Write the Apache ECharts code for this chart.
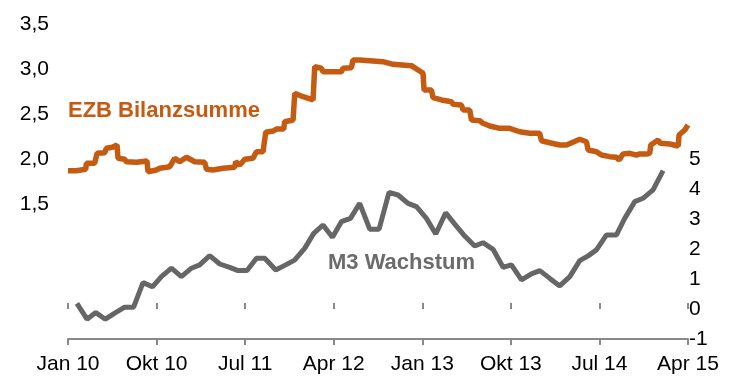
<!DOCTYPE html>
<html>
<head>
<meta charset="utf-8">
<script src="https://cdn.jsdelivr.net/npm/echarts@6/dist/echarts.min.js"></script>
<style>
  html, body { margin: 0; padding: 0; background: #ffffff; }
  #chart { width: 730px; height: 387px; }
</style>
</head>
<body>
<div id="chart"></div>
<script>
// X axis: months since Jan 2010
const tickLabels = ["Jan 10", "Okt 10", "Jul 11", "Apr 12", "Jan 13", "Okt 13", "Jul 14", "Apr 15"];
const seriesNames = ["EZB Bilanzsumme", "M3 Wachstum"];

// EZB Bilanzsumme (left axis, Bio. EUR)
const ezbMonths = [0.00,0.85,0.98,1.80,1.87,2.71,2.95,3.73,3.90,4.51,4.98,5.08,5.76,5.93,6.95,8.03,8.13,8.98,9.32,10.00,10.34,10.84,11.35,12.03,12.88,13.89,14.07,14.74,15.75,16.94,17.04,17.45,17.96,18.80,19.15,19.82,20.09,20.83,21.18,21.92,22.02,22.87,23.04,23.88,24.90,25.07,25.75,25.91,27.78,27.95,28.80,28.96,29.64,30.66,32.01,33.03,34.90,36.08,36.18,36.93,37.09,37.95,38.96,39.13,39.98,40.14,40.82,41.00,41.84,42.17,42.86,43.87,44.88,45.06,45.90,46.92,47.93,48.11,48.95,49.97,50.65,52.00,52.68,52.85,53.70,54.21,55.05,55.73,56.00,56.40,57.08,57.76,58.10,58.78,59.11,59.22,59.96,60.20,61.15,62.00,62.09,62.67,63.00];
const ezbValues = [1.870,1.870,1.886,1.886,1.952,1.952,2.063,2.070,2.119,2.130,2.156,2.008,1.997,1.970,1.963,1.978,1.859,1.878,1.897,1.908,1.914,2.008,1.970,2.019,1.970,1.963,1.886,1.878,1.897,1.908,1.970,1.933,1.997,2.008,2.081,2.081,2.297,2.311,2.333,2.333,2.414,2.433,2.730,2.692,2.656,3.026,3.008,2.970,2.970,3.008,3.014,3.100,3.100,3.092,3.081,3.052,3.037,2.952,2.767,2.767,2.681,2.656,2.637,2.608,2.600,2.544,2.544,2.433,2.426,2.397,2.367,2.341,2.341,2.322,2.303,2.286,2.286,2.203,2.181,2.156,2.156,2.219,2.192,2.100,2.081,2.044,2.026,2.019,1.989,2.056,2.063,2.044,2.056,2.056,2.063,2.156,2.211,2.174,2.167,2.144,2.267,2.322,2.378];

// M3 Wachstum (right axis, %)
const m3Months = [0.91,1.93,2.82,3.80,4.75,5.76,6.67,7.62,8.58,9.49,10.51,11.52,12.54,13.38,14.40,15.42,16.43,17.28,18.19,19.15,19.99,21.11,22.12,23.02,24.05,24.97,25.91,26.87,27.78,28.70,29.64,30.66,31.61,32.62,33.54,34.55,35.41,36.42,37.37,38.38,39.30,40.21,41.33,42.17,43.19,44.21,45.06,46.08,47.09,47.94,48.96,49.97,50.99,52.00,52.85,53.70,54.72,55.73,56.57,57.59,58.43,59.45,60.47];
const m3Values = [0.19,-0.34,-0.12,-0.34,-0.14,0.06,0.06,0.88,0.74,1.08,1.36,1.08,1.36,1.47,1.78,1.50,1.39,1.28,1.28,1.69,1.69,1.30,1.47,1.63,2.02,2.52,2.80,2.39,2.91,3.02,3.52,2.66,2.66,3.89,3.80,3.52,3.41,3.02,2.50,3.21,2.83,2.47,2.10,2.21,1.99,1.39,1.47,0.97,1.17,1.28,1.02,0.77,1.08,1.61,1.77,1.97,2.47,2.47,3.02,3.58,3.69,3.97,4.61];

const FONT = "Liberation Sans";
const ORANGE = "#C55A11";
const GREY = "#666666";
const AXIS = "#898989";

const chart = echarts.init(document.getElementById('chart'), null, { renderer: 'canvas' });

const xBase = {
  type: 'value', min: 0, max: 63, interval: 9,
  splitLine: { show: false }
};

chart.setOption({
  animation: false,
  backgroundColor: '#ffffff',
  grid: { left: 68, right: 42, top: 24, bottom: 48, containLabel: false },
  xAxis: [
    Object.assign({}, xBase, {
      position: 'bottom',
      axisLine: { show: true, lineStyle: { color: AXIS, width: 2 } },
      axisTick: { show: true, length: 6, lineStyle: { color: AXIS, width: 2 } },
      axisLabel: {
        margin: 15, color: '#000', fontFamily: FONT, fontSize: 21,
        formatter: v => tickLabels[Math.round(v / 9)] || ''
      }
    }),
    Object.assign({}, xBase, {
      position: 'bottom',
      axisLine: { show: false },
      axisTick: { show: true, inside: true, length: 6, lineStyle: { color: AXIS, width: 2 } },
      axisLabel: { show: false }
    })
  ],
  yAxis: [
    {
      type: 'value', min: 0, max: 3.5, interval: 0.5, position: 'left',
      axisLine: { show: false }, axisTick: { show: false }, splitLine: { show: false },
      axisLabel: {
        margin: 19, color: '#000', fontFamily: FONT, fontSize: 21,
        formatter: v => v >= 1.5 ? v.toFixed(1).replace('.', ',') : ''
      }
    },
    {
      type: 'value', min: -1, max: 9.5, interval: 1, position: 'right',
      axisLine: { show: false }, axisTick: { show: false }, splitLine: { show: false },
      axisLabel: {
        margin: 1, color: '#000', fontFamily: FONT, fontSize: 21,
        formatter: v => (v <= 5 && Number.isInteger(v)) ? String(v) : ''
      }
    }
  ],
  series: [
    {
      name: seriesNames[0], type: 'line', xAxisIndex: 0, yAxisIndex: 0,
      data: ezbMonths.map((m, i) => [m, ezbValues[i]]),
      showSymbol: false, symbol: 'none',
      lineStyle: { color: ORANGE, width: 5.5 }, clip: false
    },
    {
      name: seriesNames[1], type: 'line', xAxisIndex: 0, yAxisIndex: 1,
      data: m3Months.map((m, i) => [m, m3Values[i]]),
      showSymbol: false, symbol: 'none',
      lineStyle: { color: GREY, width: 5 }
    }
  ],
  graphic: [
    {
      type: 'text', left: 68, top: 100,
      style: { text: seriesNames[0], fill: ORANGE, font: 'bold 22px "Liberation Sans"' }
    },
    {
      type: 'text', left: 328, top: 252,
      style: { text: seriesNames[1], fill: '#6b6b6b', font: 'bold 22px "Liberation Sans"' }
    }
  ]
});
</script>
</body>
</html>
